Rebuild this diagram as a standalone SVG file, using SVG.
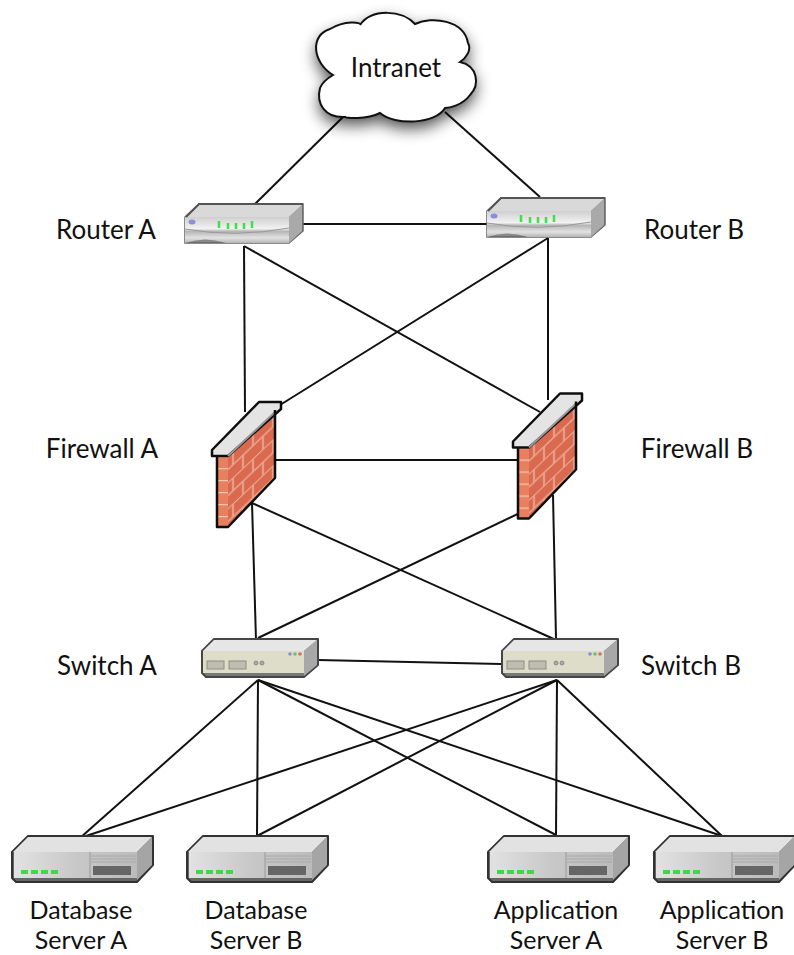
<svg xmlns="http://www.w3.org/2000/svg" width="794" height="955" viewBox="0 0 794 955">
<style>
text{font-family:"Lato","Open Sans",sans-serif;font-size:26px;fill:#111;text-anchor:middle}
text.s{font-size:25px}
.c line{stroke:#111;stroke-width:2}
</style>
<defs>
<filter id="sh" x="-30%" y="-30%" width="160%" height="160%"><feGaussianBlur stdDeviation="8"/></filter>
<filter id="soft" x="-5%" y="-5%" width="110%" height="110%"><feGaussianBlur stdDeviation="0.6"/></filter>
<linearGradient id="rf" x1="0" y1="0" x2="0" y2="1"><stop offset="0" stop-color="#cfcfcf"/><stop offset=".45" stop-color="#f2f2f2"/><stop offset=".55" stop-color="#b5b5b5"/><stop offset=".8" stop-color="#e2e2e2"/><stop offset="1" stop-color="#b5b5b5"/></linearGradient>
<linearGradient id="sf" x1="0" y1="0" x2="1" y2="0"><stop offset="0" stop-color="#e2e2e2"/><stop offset=".5" stop-color="#c8c8c8"/><stop offset="1" stop-color="#bbb"/></linearGradient>
<pattern id="brick" width="20" height="26" patternUnits="userSpaceOnUse" patternTransform="matrix(1 -0.95 0 1 228 456)">
<rect width="20" height="26" fill="#d96a50"/>
<path d="M0 .5H20M0 13.500H20M5 0V13M15 13V26" stroke="#eba58f" stroke-width="1.800" fill="none"/>
</pattern>
<pattern id="brick2" width="11" height="12" patternUnits="userSpaceOnUse" patternTransform="translate(217 456)">
<rect width="11" height="12" fill="#e8805e"/>
<path d="M0 .5H11" stroke="#f3c4b0" stroke-width="1.500"/>
</pattern>
<g id="router" filter="url(#soft)">
<path d="M185 217L199 204H303V231L289 243H185Z" fill="#888" stroke="#666" stroke-width="1.500"/>
<path d="M186 217L199 205H302L289 217Z" fill="#d9d9d9"/>
<path d="M185 217H289V243H226Q205 236 185 243Z" fill="url(#rf)"/>
<path d="M289 217L302 205V231L289 243Z" fill="#a9a9a9"/>
<path d="M185 229Q235 238 289 228" stroke="#999" fill="none"/>
<path d="M186 217L199 204H303" stroke="#555" stroke-width="2" fill="none"/>
<ellipse cx="192" cy="222" rx="3.500" ry="2.500" fill="#8c8fd8"/>
<path d="M219 221V228M228 223V229M236 223V229M244 223V229M252 221V228" stroke="#3fe04a" stroke-width="2.500"/>
</g>
<g id="firewall" filter="url(#soft)">
<path d="M228 456L275 412V478L228 527Z" fill="url(#brick)"/>
<path d="M217 456H228V527H217Z" fill="url(#brick2)"/>
<path d="M212 450L259 402H281V409L228 456H212Z" fill="#e4e4e4" stroke="#111" stroke-width="2.500" stroke-linejoin="round"/>
<path d="M228 456L275 412" stroke="#999" stroke-width="2" fill="none"/>
<path d="M217 456V527H228L275 478V410" stroke="#111" stroke-width="2.500" fill="none" stroke-linejoin="round"/>
</g>
<g id="switch" filter="url(#soft)">
<path d="M202 651L214 639H318V665L304 677H206L202 673Z" fill="#777" stroke="#444" stroke-width="2" stroke-linejoin="round"/>
<path d="M203 651L214 640H317L304 651Z" fill="#e6e6e6"/>
<rect x="203" y="651" width="101" height="22" fill="#deddca"/>
<path d="M304 651L317 640V665L304 676Z" fill="#a8a8a8"/>
<rect x="207" y="661" width="17" height="8" fill="#bdbdb0" stroke="#8e8e85"/>
<rect x="229" y="661" width="17" height="8" fill="#bdbdb0" stroke="#8e8e85"/>
<circle cx="256" cy="663" r="2" fill="#aaa" stroke="#777" stroke-width=".7"/>
<circle cx="262" cy="663" r="2" fill="#aaa" stroke="#777" stroke-width=".7"/>
<circle cx="290" cy="654" r="1.800" fill="#8f8fd0"/>
<circle cx="295" cy="654" r="1.800" fill="#6fc06f"/>
<circle cx="300" cy="654" r="1.800" fill="#d06f6f"/>
</g>
<g id="server" filter="url(#soft)">
<path d="M12 852L28 836H153V865L137 882H16L12 878Z" fill="#666" stroke="#333" stroke-width="2" stroke-linejoin="round"/>
<path d="M13 852L28 837H152L137 852Z" fill="#e2e2e2"/>
<rect x="14" y="852" width="123" height="26" fill="url(#sf)"/>
<path d="M137 852L152 837V865L137 880Z" fill="#a5a5a5"/>
<path d="M90 852V878" stroke="#999"/>
<path d="M91 856H136M91 859H136M91 862H136" stroke="#a8a8a8"/>
<rect x="93" y="866" width="38" height="9" fill="#666"/>
<rect x="21" y="870" width="7" height="4" fill="#3fd84a"/><rect x="31" y="870" width="7" height="4" fill="#3fd84a"/><rect x="41" y="870" width="7" height="4" fill="#3fd84a"/><rect x="51" y="870" width="7" height="4" fill="#3fd84a"/>
</g>
</defs>
<rect width="794" height="955" fill="#fff"/>
<g id="connectors" class="c">
<line x1="345" y1="115" x2="255" y2="204"/>
<line x1="445" y1="112" x2="540" y2="197"/>
<line x1="303" y1="224" x2="487" y2="224"/>
<line x1="244" y1="246" x2="245" y2="412"/>
<line x1="244" y1="246" x2="540" y2="412"/>
<line x1="548" y1="238" x2="548" y2="400"/>
<line x1="548" y1="238" x2="280" y2="405"/>
<line x1="275" y1="460" x2="518" y2="460"/>
<line x1="252" y1="503" x2="256" y2="640"/>
<line x1="252" y1="503" x2="556" y2="640"/>
<line x1="526" y1="510" x2="258" y2="638"/>
<line x1="553" y1="495" x2="556" y2="638"/>
<line x1="318" y1="660" x2="501" y2="664"/>
<line x1="258" y1="680" x2="80" y2="838"/>
<line x1="258" y1="680" x2="257" y2="836"/>
<line x1="258" y1="680" x2="556" y2="835"/>
<line x1="258" y1="680" x2="722" y2="836"/>
<line x1="557" y1="680" x2="80" y2="838"/>
<line x1="557" y1="680" x2="257" y2="836"/>
<line x1="557" y1="680" x2="556" y2="835"/>
<line x1="557" y1="680" x2="722" y2="836"/>
</g>
<g id="intranet">
<path d="M333 75C312 62 310 35 330 29C345 20 362 22 360 25C372 8 402 10 415 24C432 16 464 20 468 43C472 50 466 58 460 62C478 66 480 85 470 95C462 106 448 108 445 108C436 124 395 126 380 113C366 120 345 118 345 117C325 118 316 104 320 88C322 83 328 78 333 75Z" fill="#000" opacity=".7" filter="url(#sh)" transform="translate(0 7)"/>
<path d="M333 75C312 62 310 35 330 29C345 20 362 22 360 25C372 8 402 10 415 24C432 16 464 20 468 43C472 50 466 58 460 62C478 66 480 85 470 95C462 106 448 108 445 108C436 124 395 126 380 113C366 120 345 118 345 117C325 118 316 104 320 88C322 83 328 78 333 75Z" fill="#fff" stroke="#111" stroke-width="2"/>
<text x="396" y="77">Intranet</text>
</g>
<g id="router-a"><use href="#router"/><text x="106" y="239">Router A</text></g>
<g id="router-b"><use href="#router" transform="translate(302 -6)"/><text x="694" y="239">Router B</text></g>
<g id="firewall-a"><use href="#firewall"/><text x="102" y="458">Firewall A</text></g>
<g id="firewall-b"><use href="#firewall" transform="translate(301 -8.500)"/><text x="697" y="458">Firewall B</text></g>
<g id="switch-a"><use href="#switch"/><text x="107" y="675">Switch A</text></g>
<g id="switch-b"><use href="#switch" transform="translate(300 0)"/><text x="691" y="675">Switch B</text></g>
<g id="db-a"><use href="#server"/><text class="s" x="81" y="919">Database</text><text class="s" x="81" y="949">Server A</text></g>
<g id="db-b"><use href="#server" transform="translate(175 0)"/><text class="s" x="256" y="919">Database</text><text class="s" x="256" y="949">Server B</text></g>
<g id="app-a"><use href="#server" transform="translate(476 0)"/><text class="s" x="556" y="919">Application</text><text class="s" x="556" y="949">Server A</text></g>
<g id="app-b"><use href="#server" transform="translate(642 0)"/><text class="s" x="722" y="919">Application</text><text class="s" x="722" y="949">Server B</text></g>
</svg>
